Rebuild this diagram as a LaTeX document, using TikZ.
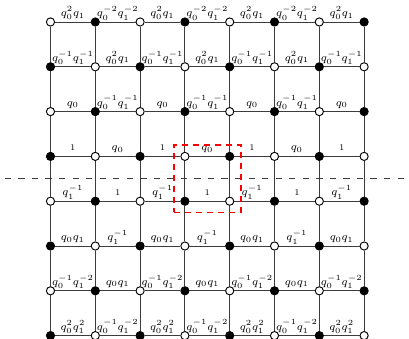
\documentclass[tikz,border=0pt]{standalone}
\usepackage{amsmath}
\usepackage{xcolor}
\usepackage{tikz}
\usetikzlibrary{positioning}
\definecolor{gridgray}{RGB}{60,60,60}

\begin{document}
\begin{tikzpicture}[
  every node/.style={font=\fontsize{7.5}{9}\selectfont},
  site/.style={circle, draw=black, line width=0.6pt, inner sep=0pt, minimum size=5.2pt},
  blacksite/.style={site, fill=black},
  whitesite/.style={site, fill=white},
  bond/.style={draw=gridgray, line width=0.6pt},
  wt/.style={anchor=base, inner sep=0pt, yshift=3.5pt}
]
  \useasboundingbox (-1.127,0.491) rectangle (8.002,-7.054);

  % cut line
  \coordinate (cutL) at (-1.02,-3.5);
  \coordinate (cutR) at (8.002,-3.5);
  \draw[gridgray, line width=0.6pt, dash pattern=on 4pt off 4.6pt] (cutL) -- (cutR);

  % lattice sites
  \foreach \j in {0,...,7}
    \foreach \i in {0,...,7} {
      \pgfmathtruncatemacro{\parity}{mod(\i+\j,2)}
      \ifnum\parity=0
        \node[whitesite] (v\i-\j) at (\i,-\j) {};
      \else
        \node[blacksite] (v\i-\j) at (\i,-\j) {};
      \fi
    }

  % vertical bonds
  \foreach \i in {0,...,7}
    \foreach \j in {0,...,6} {
      \pgfmathtruncatemacro{\k}{\j+1}
      \draw[bond] (v\i-\j) -- (v\i-\k);
    }

  % horizontal bonds with weights
  \foreach \j/\ev/\od in {
      0/{$q_0^2q_1$}/{$q_0^{-2}q_1^{-2}$},
      1/{$q_0^{-1}q_1^{-1}$}/{$q_0^2q_1$},
      2/{$q_0$}/{$q_0^{-1}q_1^{-1}$},
      3/{\fontsize{5.5}{6}\selectfont 1}/{$q_0$},
      4/{$q_1^{-1}$}/{\fontsize{5.5}{6}\selectfont 1},
      5/{$q_0q_1$}/{$q_1^{-1}$},
      6/{$q_0^{-1}q_1^{-2}$}/{$q_0q_1$},
      7/{$q_0^2q_1^2$}/{$q_0^{-1}q_1^{-2}$}} {
    \foreach \i in {0,2,4,6} {
      \pgfmathtruncatemacro{\k}{\i+1}
      \draw[bond] (v\i-\j) -- node[wt] {\ev} (v\k-\j);
    }
    \foreach \i in {1,3,5} {
      \pgfmathtruncatemacro{\k}{\i+1}
      \draw[bond] (v\i-\j) -- node[wt] {\od} (v\k-\j);
    }
  }

  % marked cell
  \node[draw=red, line width=1.1pt, dash pattern=on 4pt off 3pt, inner sep=0pt, outer sep=0pt,
        minimum size=1.5cm] (cell) at (3.5,-3.5) {};
\end{tikzpicture}
\end{document}
